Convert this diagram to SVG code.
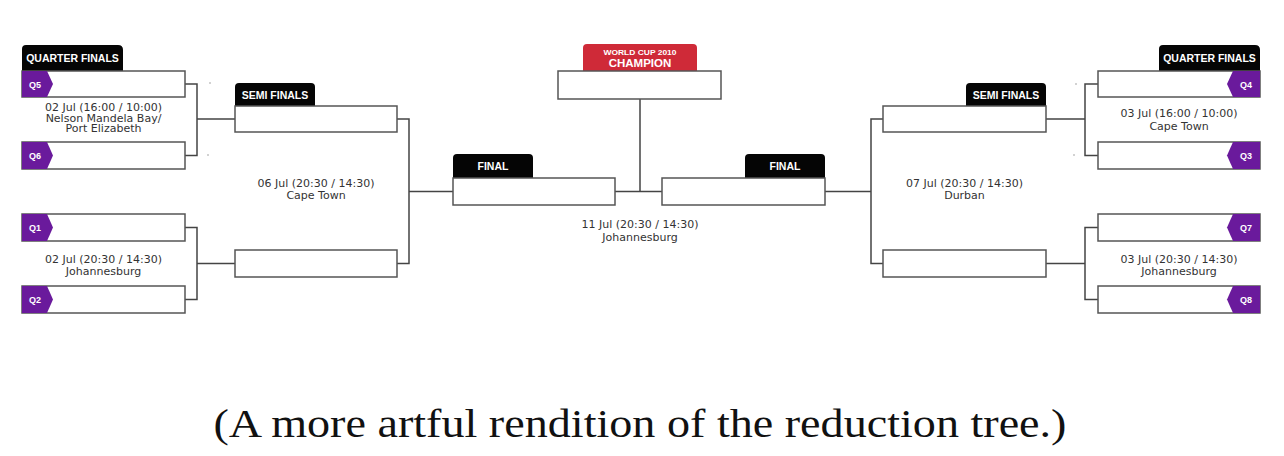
<svg xmlns="http://www.w3.org/2000/svg" width="1284" height="456" viewBox="0 0 1284 456">
<style>
.box{fill:#fff;stroke:#555;stroke-width:1.5}
.tab{fill:#050505}
.red{fill:#cf2a38}
.q{fill:#6a1a9c}
.hd{font-family:"Liberation Sans",Arial,sans-serif;font-weight:bold;font-size:10.5px;fill:#fff;text-anchor:middle}
.ql{font-family:"Liberation Sans",Arial,sans-serif;font-weight:bold;font-size:9px;fill:#fff;text-anchor:middle}
.info{font-family:"DejaVu Sans",Verdana,sans-serif;font-size:11px;fill:#333;text-anchor:middle}
.con{fill:none;stroke:#444;stroke-width:1.5}
.cap{font-family:"Liberation Serif","Times New Roman",serif;font-size:41px;fill:#111;text-anchor:middle}
</style>
<rect width="1284" height="456" fill="#fff"/>
<g id="connectors">
<path class="con" d="M185,84 H197 V155.5 H185 M197,119 H235"/>
<path class="con" d="M185,227.5 H197 V299.5 H185 M197,263.5 H235"/>
<path class="con" d="M397,119 H409 V263.5 H397 M409,191.5 H453"/>
<path class="con" d="M615,191.5 H662 M640,99 V191.5"/>
<path class="con" d="M883,119 H871 V263.5 H883 M871,191.5 H825"/>
<path class="con" d="M1098,84 H1085 V155.5 H1098 M1085,119 H1046"/>
<path class="con" d="M1098,227.5 H1085 V299.5 H1098 M1085,263.5 H1046"/>
<g fill="#999"><circle cx="210" cy="83" r="0.8"/><circle cx="208" cy="155" r="0.8"/><circle cx="1076" cy="84" r="0.8"/><circle cx="1074" cy="155" r="0.8"/></g>
</g>
<g id="qf-left-header">
<path class="tab" d="M22,71 V49 Q22,45 26,45 H118 Q123,45 123,50 V71 Z"/>
<text class="hd" x="72.5" y="61.5">QUARTER FINALS</text>
</g>
<g id="q5">
<rect class="box" x="22" y="71" width="163" height="26"/>
<polygon class="q" points="22,71 47,71 53,84 47,97 22,97"/>
<text class="ql" x="35" y="87.5">Q5</text>
</g>
<g id="q6">
<rect class="box" x="22" y="142" width="163" height="27"/>
<polygon class="q" points="22,142 47,142 53,155.5 47,169 22,169"/>
<text class="ql" x="35" y="159">Q6</text>
</g>
<g id="qf-left-top-info">
<text class="info" x="103.5" y="111">02 Jul (16:00 / 10:00)</text>
<text class="info" x="103.5" y="121.5">Nelson Mandela Bay/</text>
<text class="info" x="103.5" y="132">Port Elizabeth</text>
</g>
<g id="q1">
<rect class="box" x="22" y="214" width="163" height="27"/>
<polygon class="q" points="22,214 47,214 53,227.5 47,241 22,241"/>
<text class="ql" x="35" y="231">Q1</text>
</g>
<g id="q2">
<rect class="box" x="22" y="286" width="163" height="27"/>
<polygon class="q" points="22,286 47,286 53,299.5 47,313 22,313"/>
<text class="ql" x="35" y="303">Q2</text>
</g>
<g id="qf-left-bottom-info">
<text class="info" x="103.5" y="262.5">02 Jul (20:30 / 14:30)</text>
<text class="info" x="103.5" y="274.5">Johannesburg</text>
</g>
<g id="sf-left-top">
<path class="tab" d="M235,106 V87 Q235,83 239,83 H311 Q315,83 315,87 V106 Z"/>
<text class="hd" x="275" y="98.5">SEMI FINALS</text>
<rect class="box" x="235" y="106" width="162" height="26"/>
</g>
<g id="sf-left-bottom">
<rect class="box" x="235" y="250" width="162" height="27"/>
</g>
<g id="sf-left-info">
<text class="info" x="316" y="186.5">06 Jul (20:30 / 14:30)</text>
<text class="info" x="316" y="198.5">Cape Town</text>
</g>
<g id="final-left">
<path class="tab" d="M453,178 V158 Q453,154 457,154 H529 Q533,154 533,158 V178 Z"/>
<text class="hd" x="493" y="170">FINAL</text>
<rect class="box" x="453" y="178" width="162" height="27"/>
</g>
<g id="final-right">
<path class="tab" d="M745,178 V158 Q745,154 749,154 H821 Q825,154 825,158 V178 Z"/>
<text class="hd" x="785" y="170">FINAL</text>
<rect class="box" x="662" y="178" width="163" height="27"/>
</g>
<g id="final-info">
<text class="info" x="640" y="228">11 Jul (20:30 / 14:30)</text>
<text class="info" x="640" y="240.5">Johannesburg</text>
</g>
<g id="champion">
<path class="red" d="M583,71 V48 Q583,44 587,44 H693 Q697,44 697,48 V71 Z"/>
<text class="hd" x="640" y="55" style="font-size:8px" textLength="73" lengthAdjust="spacingAndGlyphs">WORLD CUP 2010</text>
<text class="hd" x="640" y="66.5" style="font-size:11.5px">CHAMPION</text>
<rect class="box" x="558" y="71" width="163" height="28"/>
</g>
<g id="sf-right-top">
<path class="tab" d="M966,106 V87 Q966,83 970,83 H1042 Q1046,83 1046,87 V106 Z"/>
<text class="hd" x="1006" y="98.5">SEMI FINALS</text>
<rect class="box" x="883" y="106" width="163" height="26"/>
</g>
<g id="sf-right-bottom">
<rect class="box" x="883" y="250" width="163" height="27"/>
</g>
<g id="sf-right-info">
<text class="info" x="964.5" y="186.5">07 Jul (20:30 / 14:30)</text>
<text class="info" x="964.5" y="198.5">Durban</text>
</g>
<g id="qf-right-header">
<path class="tab" d="M1159,71 V49 Q1159,45 1163,45 H1255 Q1260,45 1260,50 V71 Z"/>
<text class="hd" x="1209.5" y="61.5">QUARTER FINALS</text>
</g>
<g id="q4">
<rect class="box" x="1098" y="71" width="162" height="26"/>
<polygon class="q" points="1260,71 1233,71 1227,84 1233,97 1260,97"/>
<text class="ql" x="1246" y="87.5">Q4</text>
</g>
<g id="q3">
<rect class="box" x="1098" y="142" width="162" height="27"/>
<polygon class="q" points="1260,142 1233,142 1227,155.5 1233,169 1260,169"/>
<text class="ql" x="1246" y="159">Q3</text>
</g>
<g id="qf-right-top-info">
<text class="info" x="1179" y="117">03 Jul (16:00 / 10:00)</text>
<text class="info" x="1179" y="129.5">Cape Town</text>
</g>
<g id="q7">
<rect class="box" x="1098" y="214" width="162" height="27"/>
<polygon class="q" points="1260,214 1233,214 1227,227.5 1233,241 1260,241"/>
<text class="ql" x="1246" y="231">Q7</text>
</g>
<g id="q8">
<rect class="box" x="1098" y="286" width="162" height="27"/>
<polygon class="q" points="1260,286 1233,286 1227,299.5 1233,313 1260,313"/>
<text class="ql" x="1246" y="303">Q8</text>
</g>
<g id="qf-right-bottom-info">
<text class="info" x="1179" y="262.5">03 Jul (20:30 / 14:30)</text>
<text class="info" x="1179" y="274.5">Johannesburg</text>
</g>
<text class="cap" x="640" y="437" textLength="853" lengthAdjust="spacingAndGlyphs">(A more artful rendition of the reduction tree.)</text>
</svg>
